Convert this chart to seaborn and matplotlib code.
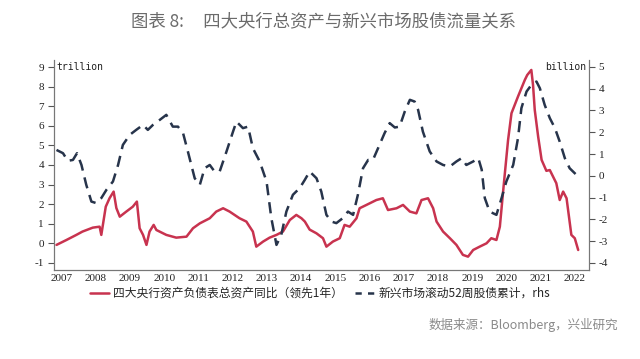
import pandas as pd
import numpy as np
import seaborn as sns
import matplotlib.pyplot as plt
from matplotlib.lines import Line2D

# red: 四大央行资产负债表总资产同比（领先1年）, left axis (trillion)
cb_year = [2006.85, 2007.14, 2007.43, 2007.61, 2007.91, 2008.11, 2008.16, 2008.29, 2008.40, 2008.52,
           2008.60, 2008.70, 2008.89, 2009.08, 2009.20, 2009.28, 2009.38, 2009.48, 2009.57, 2009.69,
           2009.77, 2010.06, 2010.35, 2010.65, 2010.84, 2011.04, 2011.33, 2011.52, 2011.72, 2011.91,
           2012.20, 2012.40, 2012.59, 2012.69, 2012.89, 2013.08, 2013.28, 2013.47, 2013.67, 2013.86,
           2014.01, 2014.11, 2014.25, 2014.45, 2014.64, 2014.74, 2014.93, 2015.13, 2015.27, 2015.42,
           2015.62, 2015.71, 2015.91, 2016.20, 2016.39, 2016.54, 2016.79, 2016.98, 2017.18, 2017.37,
           2017.52, 2017.71, 2017.86, 2017.96, 2018.15, 2018.35, 2018.54, 2018.73, 2018.88, 2019.03,
           2019.22, 2019.42, 2019.56, 2019.71, 2019.81, 2019.90, 2020.05, 2020.15, 2020.34, 2020.54,
           2020.61, 2020.73, 2020.78, 2020.83, 2020.93, 2021.03, 2021.17, 2021.27, 2021.46, 2021.56,
           2021.66, 2021.76, 2021.90, 2022.00, 2022.10]
cb_value = [-0.08, 0.17, 0.43, 0.60, 0.80, 0.85, 0.43, 1.87, 2.30, 2.64,
            1.80, 1.36, 1.62, 1.87, 2.13, 0.77, 0.43, -0.08, 0.60, 0.94,
            0.68, 0.43, 0.29, 0.34, 0.77, 1.02, 1.28, 1.62, 1.79, 1.62,
            1.28, 1.11, 0.60, -0.17, 0.09, 0.29, 0.43, 0.60, 1.19, 1.45,
            1.28, 1.11, 0.70, 0.51, 0.26, -0.17, 0.09, 0.26, 0.94, 0.85,
            1.28, 1.79, 1.96, 2.21, 2.30, 1.70, 1.79, 1.96, 1.62, 1.53,
            2.21, 2.30, 1.79, 1.11, 0.60, 0.26, -0.08, -0.59, -0.68, -0.34,
            -0.17, 0.00, 0.26, 0.17, 0.85, 2.55, 5.27, 6.64, 7.49, 8.34,
            8.59, 8.85, 8.08, 6.81, 5.44, 4.26, 3.70, 3.74, 3.07, 2.21,
            2.64, 2.30, 0.43, 0.26, -0.34]

# dashed: 新兴市场滚动52周股债累计, right axis (billion)
em_year = [2006.85, 2007.04, 2007.18, 2007.33, 2007.45, 2007.58, 2007.72, 2007.87, 2008.01, 2008.16,
           2008.31, 2008.50, 2008.65, 2008.79, 2008.99, 2009.18, 2009.38, 2009.52, 2009.67, 2009.87,
           2010.06, 2010.25, 2010.40, 2010.55, 2010.69, 2010.89, 2011.04, 2011.18, 2011.33, 2011.47,
           2011.62, 2011.82, 2012.01, 2012.11, 2012.30, 2012.45, 2012.59, 2012.79, 2012.99, 2013.13,
           2013.28, 2013.42, 2013.57, 2013.76, 2013.96, 2014.11, 2014.25, 2014.45, 2014.59, 2014.74,
           2014.89, 2015.03, 2015.22, 2015.37, 2015.52, 2015.66, 2015.81, 2015.96, 2016.10, 2016.25,
           2016.44, 2016.59, 2016.74, 2016.88, 2017.03, 2017.18, 2017.32, 2017.42, 2017.56, 2017.76,
           2017.96, 2018.15, 2018.35, 2018.54, 2018.69, 2018.83, 2019.03, 2019.18, 2019.28, 2019.37,
           2019.51, 2019.71, 2019.86, 2020.00, 2020.20, 2020.34, 2020.44, 2020.59, 2020.73, 2020.88,
           2020.98, 2021.12, 2021.27, 2021.42, 2021.56, 2021.71, 2021.85, 2022.00, 2022.10]
em_value = [1.19, 1.04, 0.69, 0.73, 1.04, 0.50, -0.41, -1.18, -1.25, -1.02,
            -0.64, -0.26, 0.50, 1.42, 1.88, 2.11, 2.34, 2.11, 2.34, 2.57,
            2.80, 2.26, 2.26, 1.96, 1.12, -0.11, -0.41, 0.35, 0.50, 0.20,
            0.20, 1.12, 2.03, 2.49, 2.19, 2.26, 1.27, 0.66, -0.26, -1.94,
            -3.17, -2.71, -1.64, -0.87, -0.56, -0.18, 0.20, -0.11, -0.72, -1.79,
            -2.10, -2.17, -1.94, -1.64, -1.79, -0.87, 0.35, 0.73, 0.73, 1.27,
            1.96, 2.42, 2.22, 2.26, 2.95, 3.49, 3.41, 3.03, 2.03, 1.12,
            0.66, 0.50, 0.43, 0.66, 0.81, 0.50, 0.66, 0.81, 0.28, -1.02,
            -1.64, -1.79, -1.02, -0.26, 0.50, 1.73, 3.11, 3.87, 4.17, 4.33,
            4.02, 3.26, 2.65, 2.19, 1.57, 0.81, 0.35, 0.12, -0.03]

years = list(range(2007, 2023))
left_ticks = list(range(-1, 10))
right_ticks = list(range(-4, 6))

label_cb = '四大央行资产负债表总资产同比（领先1年）'
label_em = '新兴市场滚动52周股债累计，rhs'

red = '#c8334f'
navy = '#27344b'

sns.set_theme(style='white')
plt.rcParams['font.family'] = ['Noto Sans CJK SC', 'DejaVu Sans']

cb_df = pd.DataFrame({'year': cb_year, 'value': cb_value})
em_df = pd.DataFrame({'year': em_year, 'value': em_value})

fig = plt.figure(figsize=(6.4, 3.59), dpi=100)
ax = fig.add_axes([0.084, 0.248, 0.836, 0.585])
ax2 = ax.twinx()

sns.lineplot(data=cb_df, x='year', y='value', ax=ax, color=red, linewidth=1.8)
sns.lineplot(data=em_df, x='year', y='value', ax=ax2, color=navy, linewidth=1.8,
             linestyle=(0, (4.5, 2.8)))

ax.set_xlim(2006.77, 2022.41)
ax.set_ylim(-1.36, 9.36)
ax2.set_ylim(-4.32, 5.32)

ax.set_xticks(years)
ax.set_xticklabels([str(y) for y in years], fontfamily='Liberation Serif', fontsize=8, color='#222222')
ax.set_yticks(left_ticks)
ax.set_yticklabels([str(v) for v in left_ticks], fontfamily='Liberation Serif', fontsize=8, color='#222222')
ax2.set_yticks(right_ticks)
ax2.set_yticklabels([str(v) for v in right_ticks], fontfamily='Liberation Serif', fontsize=8, color='#222222')

ax.tick_params(axis='x', length=0, pad=3)
ax.tick_params(axis='y', left=True, length=4, width=0.8, color='#555555', pad=3)
ax2.tick_params(axis='y', right=True, length=4, width=0.8, color='#555555', pad=3)

for a in (ax, ax2):
    a.set_xlabel('')
    a.set_ylabel('')
    a.spines['top'].set_visible(False)
    for s in ('left', 'right', 'bottom'):
        a.spines[s].set_color('#777777')
        a.spines[s].set_linewidth(0.8)

ax.text(0.005, 9, 'trillion', transform=ax.get_yaxis_transform(), ha='left', va='center',
        fontfamily='DejaVu Sans Mono', fontsize=7, color='#222222')
ax2.text(0.995, 5, 'billion', transform=ax2.get_yaxis_transform(), ha='right', va='center',
         fontfamily='DejaVu Sans Mono', fontsize=7, color='#222222')

handles = [Line2D([], [], color=red, linewidth=1.8),
           Line2D([], [], color=navy, linewidth=1.8, linestyle=(0, (2.5, 2.5)))]
fig.legend(handles, [label_cb, label_em], loc='center', bbox_to_anchor=(0.5, 0.183), ncol=2,
           frameon=False, fontsize=8.5, handlelength=1.6, handletextpad=0.4, columnspacing=1.0)

fig.text(0.505, 0.94, '图表 8:     四大央行总资产与新兴市场股债流量关系', ha='center', va='center',
         fontsize=12.5, color='#6b6b6b')
fig.text(0.966, 0.094, '数据来源：Bloomberg，兴业研究', ha='right', va='center',
         fontsize=9, color='#8a8a8a')

fig.savefig('out.png', dpi=100, facecolor='white')
